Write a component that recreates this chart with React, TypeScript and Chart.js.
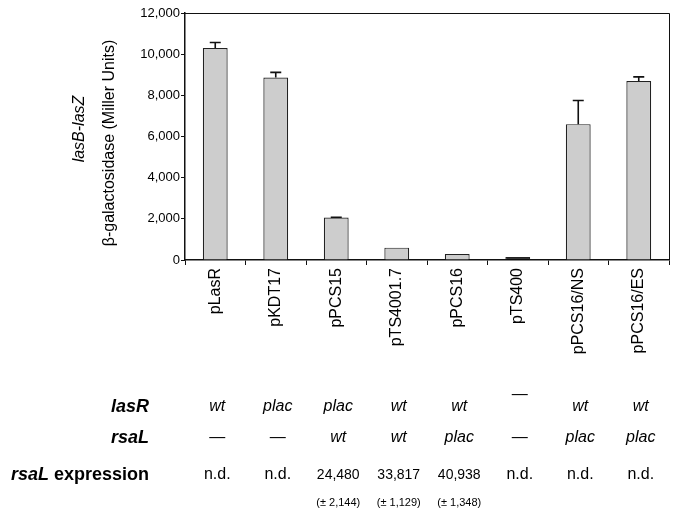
import React, { useEffect, useRef } from "react";
import { Chart, registerables } from "chart.js";

Chart.register(...registerables);

// ---- data ----
const categories = ["pLasR", "pKDT17", "pPCS15", "pTS4001.7", "pPCS16", "pTS400", "pPCS16/NS", "pPCS16/ES"];
const activity = [10300, 8870, 2060, 600, 290, 140, 6600, 8700];
const activityError = [270, 245, 20, 0, 0, 0, 1150, 195];
const yTickValues = [0, 2000, 4000, 6000, 8000, 10000, 12000];
const lasRRow = ["wt", "plac", "plac", "wt", "wt", "—", "wt", "wt"];
const rsaLRow = ["—", "—", "wt", "wt", "plac", "—", "plac", "plac"];
const expressionRow = ["n.d.", "n.d.", "24,480", "33,817", "40,938", "n.d.", "n.d.", "n.d."];
const expressionSDRow = ["", "", "(± 2,144)", "(± 1,129)", "(± 1,348)", "", "", ""];

const FONT = "Arial, 'Liberation Sans', Helvetica, sans-serif";

const framePlugin = {
  id: "frame",
  afterDatasetsDraw(chart: any) {
    const { ctx, chartArea: a } = chart;
    ctx.save();
    ctx.strokeStyle = "#111";
    ctx.lineWidth = 1;
    ctx.beginPath();
    ctx.moveTo(a.left, a.top + 0.5);
    ctx.lineTo(a.right + 0.5, a.top + 0.5);
    ctx.lineTo(a.right + 0.5, a.bottom);
    ctx.stroke();
    ctx.restore();
  },
};

const errorBarPlugin = {
  id: "errorBars",
  afterDatasetsDraw(chart: any) {
    const { ctx } = chart;
    const meta = chart.getDatasetMeta(0);
    const y = chart.scales.y;
    ctx.save();
    ctx.strokeStyle = "#111";
    ctx.lineWidth = 1.6;
    meta.data.forEach((bar: any, i: number) => {
      const err = activityError[i];
      if (!err) return;
      const yTop = y.getPixelForValue(activity[i] + err);
      const yBar = y.getPixelForValue(activity[i]);
      ctx.beginPath();
      ctx.moveTo(bar.x, yBar);
      ctx.lineTo(bar.x, yTop);
      ctx.moveTo(bar.x - 5.5, yTop);
      ctx.lineTo(bar.x + 5.5, yTop);
      ctx.stroke();
    });
    ctx.restore();
  },
};

const annotationPlugin = {
  id: "annotations",
  afterDraw(chart: any) {
    const { ctx, chartArea: a } = chart;
    const x = chart.scales.x;
    ctx.save();
    ctx.fillStyle = "#000";
    // y-axis title (two lines)
    ctx.textAlign = "center";
    ctx.textBaseline = "middle";
    ctx.save();
    ctx.translate(a.left - 105, a.top + 116);
    ctx.rotate(-Math.PI / 2);
    ctx.font = `italic 16px ${FONT}`;
    ctx.fillText("lasB-lasZ", 0, 0);
    ctx.restore();
    ctx.save();
    ctx.translate(a.left - 75, a.top + 130);
    ctx.rotate(-Math.PI / 2);
    ctx.font = `16px ${FONT}`;
    ctx.fillText("β-galactosidase (Miller Units)", 0, 0);
    ctx.restore();

    // table row labels
    const labelRight = 149;
    const rowY = [407, 438, 475, 503];
    ctx.textAlign = "right";
    ctx.font = `bold italic 18px ${FONT}`;
    ctx.fillText("lasR", labelRight, rowY[0]);
    ctx.fillText("rsaL", labelRight, rowY[1]);
    ctx.font = `bold 18px ${FONT}`;
    const exprW = ctx.measureText(" expression").width;
    ctx.fillText(" expression", labelRight, rowY[2]);
    ctx.font = `bold italic 18px ${FONT}`;
    ctx.fillText("rsaL", labelRight - exprW, rowY[2]);

    // table cells
    ctx.textAlign = "center";
    categories.forEach((_, i) => {
      const cx = x.getPixelForValue(i) + 2;
      const l = lasRRow[i];
      ctx.font = l === "—" ? `16px ${FONT}` : `italic 16px ${FONT}`;
      ctx.fillText(l, cx, l === "—" ? rowY[0] - 12 : rowY[0]);
      const r = rsaLRow[i];
      ctx.font = r === "—" ? `16px ${FONT}` : `italic 16px ${FONT}`;
      ctx.fillText(r, cx, rowY[1]);
      const e = expressionRow[i];
      ctx.font = e === "n.d." ? `16px ${FONT}` : `14px ${FONT}`;
      ctx.fillText(e, cx, rowY[2]);
      const s = expressionSDRow[i];
      if (s) {
        ctx.font = `11px ${FONT}`;
        ctx.fillText(s, cx, rowY[3]);
      }
    });
    ctx.restore();
  },
};

export default function App() {
  const ref = useRef<HTMLCanvasElement | null>(null);
  useEffect(() => {
    if (!ref.current) return;
    const chart = new Chart(ref.current, {
      type: "bar",
      data: {
        labels: categories,
        datasets: [
          {
            data: activity,
            backgroundColor: (c: any) => (c.raw < 200 ? "#000" : "#cdcdcd"),
            borderColor: "#222",
            borderWidth: 1.2,
            categoryPercentage: 1,
            barPercentage: 0.41,
          },
        ],
      },
      options: {
        responsive: false,
        animation: false,
        layout: { padding: { top: 13, right: 9, left: 0, bottom: 0 } },
        plugins: { legend: { display: false }, tooltip: { enabled: false } },
        scales: {
          x: {
            grid: { drawOnChartArea: false, tickLength: 5, color: "#111", offset: true },
            border: { display: true, color: "#111", width: 1.5 },
            ticks: {
              minRotation: 90,
              maxRotation: 90,
              padding: 3,
              color: "#000",
              font: { family: FONT, size: 16 },
            },
            afterFit: (s: any) => {
              s.height = 257;
            },
          },
          y: {
            min: 0,
            max: 12000,
            afterBuildTicks: (s: any) => {
              s.ticks = yTickValues.map((v) => ({ value: v }));
            },
            grid: { drawOnChartArea: false, tickLength: 4, color: "#111" },
            border: { display: true, color: "#111", width: 1.5 },
            ticks: {
              padding: 1,
              color: "#000",
              font: { family: FONT, size: 13 },
              callback: (v: any) => Number(v).toLocaleString("en-US"),
            },
            afterFit: (s: any) => {
              s.width = 185;
            },
          },
        },
      },
      plugins: [framePlugin, errorBarPlugin, annotationPlugin],
    });
    return () => chart.destroy();
  }, []);
  return (
    <div style={{ position: "fixed", left: 0, top: 0, width: 678, height: 517, background: "#fff" }}>
      <canvas ref={ref} width={678} height={517} style={{ display: "block" }} />
    </div>
  );
}
